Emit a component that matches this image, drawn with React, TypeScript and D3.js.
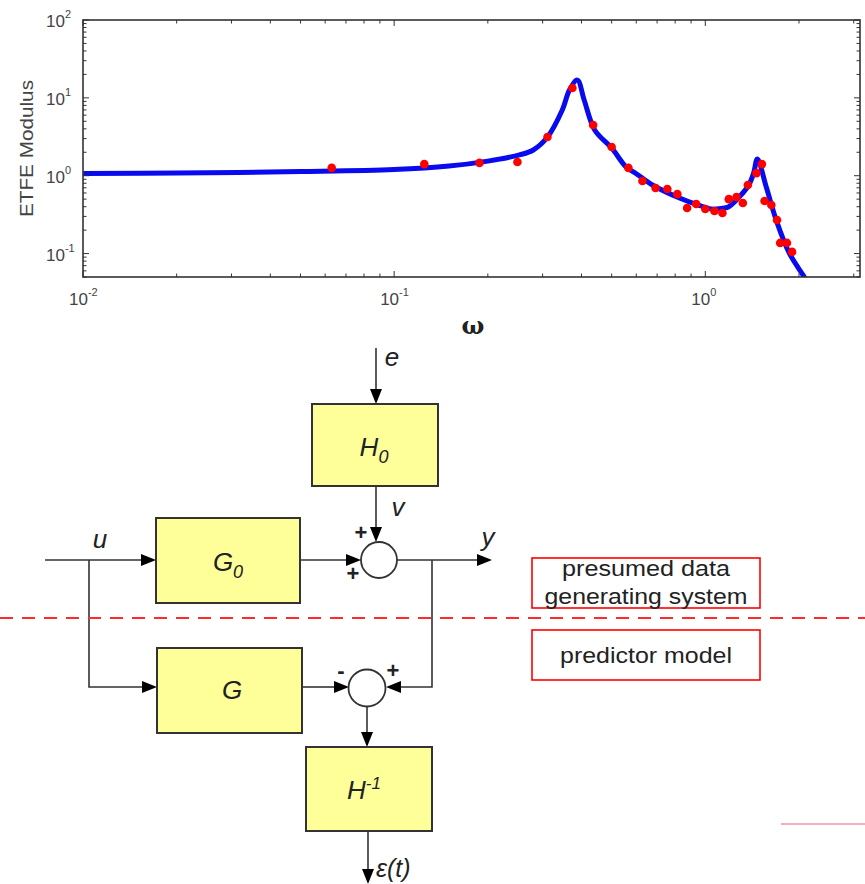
import * as d3 from "d3";

// fitted model modulus (blue line)
const omegaFit = [0.01, 0.02, 0.05, 0.1, 0.15, 0.2, 0.253, 0.28, 0.311, 0.347, 0.366, 0.388, 0.408, 0.441, 0.5, 0.557, 0.6, 0.676, 0.826, 0.95, 1.05, 1.12, 1.19, 1.32, 1.38, 1.43, 1.47, 1.57, 1.69, 1.86, 2.08, 2.2];
const modFit = [1.07, 1.08, 1.13, 1.2, 1.33, 1.54, 1.85, 2.14, 3.14, 6.98, 12.6, 16.9, 9.4, 3.87, 2.27, 1.29, 1.06, 0.76, 0.517, 0.42, 0.373, 0.38, 0.4, 0.6, 0.76, 1.08, 1.64, 0.716, 0.269, 0.102, 0.05, 0.034];

// ETFE estimate (red dots)
const omegaEtfe = [0.063, 0.125, 0.188, 0.249, 0.311, 0.374, 0.436, 0.5, 0.566, 0.628, 0.692, 0.755, 0.813, 0.874, 0.935, 1.0, 1.07, 1.135, 1.19, 1.26, 1.32, 1.37, 1.46, 1.52, 1.55, 1.63, 1.7, 1.74, 1.83, 1.9];
const modEtfe = [1.26, 1.41, 1.46, 1.5, 3.14, 13.4, 4.48, 2.34, 1.26, 0.855, 0.695, 0.675, 0.58, 0.385, 0.433, 0.373, 0.352, 0.332, 0.5, 0.532, 0.446, 0.76, 1.08, 1.41, 0.473, 0.42, 0.27, 0.137, 0.137, 0.105];

const xMajor = [0.01, 0.1, 1];
const xExp = ["-2", "-1", "0"];
const yMajor = [0.1, 1, 10, 100];
const yExp = ["-1", "0", "1", "2"];

const L = 83, R = 860, T = 20, B = 277;
const ink = "#333";
const sans = "Liberation Sans, Arial, sans-serif";

function Arrow({ x1, y1, x2, y2 }: { x1: number; y1: number; x2: number; y2: number }) {
  const a = Math.atan2(y2 - y1, x2 - x1);
  const len = 15, w = 6;
  const bx = x2 - len * Math.cos(a), by = y2 - len * Math.sin(a);
  const pts = [
    [x2, y2],
    [bx - w * Math.sin(a), by + w * Math.cos(a)],
    [bx + w * Math.sin(a), by - w * Math.cos(a)],
  ];
  return (
    <g>
      <line x1={x1} y1={y1} x2={bx} y2={by} stroke={ink} strokeWidth={1.6} />
      <polygon points={pts.map((p) => p.join(",")).join(" ")} fill="#000" />
    </g>
  );
}

function Block({ x, y, w, h }: { x: number; y: number; w: number; h: number }) {
  return <rect x={x} y={y} width={w} height={h} fill="#ffff99" stroke={ink} strokeWidth={2} />;
}

export default function App() {
  const x = d3.scaleLog().domain([0.01, Math.PI]).range([L, R]);
  const y = d3.scaleLog().domain([0.05, 100]).range([B, T]);

  const fitPts = omegaFit.map((w, i) => [w, modFit[i]] as [number, number]);
  const line = d3
    .line<[number, number]>()
    .x((d) => x(d[0]))
    .y((d) => y(d[1]))
    .curve(d3.curveCatmullRom.alpha(0.5));

  const xMinor = x.ticks().filter((t) => !xMajor.some((m) => Math.abs(m - t) < 1e-9));
  const yMinor = y.ticks().filter((t) => !yMajor.some((m) => Math.abs(m - t) < 1e-9));

  return (
    <div style={{ position: "absolute", left: 0, top: 0 }}>
      <svg width={865} height={884} style={{ display: "block", background: "#fff" }}>
        <defs>
          <clipPath id="plot">
            <rect x={L} y={T} width={R - L} height={B - T} />
          </clipPath>
        </defs>

        {/* chart */}
        <g clipPath="url(#plot)">
          <path d={line(fitPts) || ""} fill="none" stroke="#0a0aee" strokeWidth={5} strokeLinejoin="round" />
          {omegaEtfe.map((w, i) => (
            <circle key={i} cx={x(w)} cy={y(modEtfe[i])} r={4.3} fill="#ff0000" />
          ))}
        </g>
        <rect x={L} y={T} width={R - L} height={B - T} fill="none" stroke={ink} strokeWidth={1.6} />
        {xMinor.map((t, i) => (
          <g key={"xm" + i} stroke={ink} strokeWidth={1}>
            <line x1={x(t)} x2={x(t)} y1={B} y2={B - 3.5} />
            <line x1={x(t)} x2={x(t)} y1={T} y2={T + 3.5} />
          </g>
        ))}
        {xMajor.map((t, i) => (
          <g key={"xM" + i}>
            <line x1={x(t)} x2={x(t)} y1={B} y2={B - 6} stroke={ink} />
            <line x1={x(t)} x2={x(t)} y1={T} y2={T + 6} stroke={ink} />
            <text x={x(t) - 14} y={305} fontFamily={sans} fontSize={17} fill="#444">
              10
              <tspan dy={-9} fontSize={11}>{xExp[i]}</tspan>
            </text>
          </g>
        ))}
        {yMinor.map((t, i) => (
          <g key={"ym" + i} stroke={ink} strokeWidth={1}>
            <line x1={L} x2={L + 3.5} y1={y(t)} y2={y(t)} />
            <line x1={R} x2={R - 3.5} y1={y(t)} y2={y(t)} />
          </g>
        ))}
        {yMajor.map((t, i) => (
          <g key={"yM" + i}>
            <line x1={L} x2={L + 6} y1={y(t)} y2={y(t)} stroke={ink} />
            <line x1={R} x2={R - 6} y1={y(t)} y2={y(t)} stroke={ink} />
            <text x={46} y={y(t) + 7} fontFamily={sans} fontSize={17} fill="#444">
              10
              <tspan dy={-9} fontSize={11}>{yExp[i]}</tspan>
            </text>
          </g>
        ))}
        <text
          transform={`translate(33,${(T + B) / 2}) rotate(-90)`}
          textAnchor="middle"
          fontFamily={sans}
          fontSize={19}
          fill="#444"
          textLength={137}
          lengthAdjust="spacingAndGlyphs"
        >
          ETFE Modulus
        </text>
        <text x={473} y={334} textAnchor="middle" fontFamily="DejaVu Serif, serif" fontSize={24} fontWeight="bold" fill="#222">
          ω
        </text>

        {/* block diagram */}
        <g fontFamily={sans} fill="#222">
          <Arrow x1={376} y1={348} x2={376} y2={404} />
          <text x={392} y={366} textAnchor="middle" fontSize={26} fontStyle="italic">e</text>
          <Block x={312} y={404} w={126} h={82} />
          <text x={374} y={456} textAnchor="middle" fontSize={26} fontStyle="italic">
            H<tspan dy={7} fontSize={18}>0</tspan>
          </text>
          <Arrow x1={376} y1={486} x2={376} y2={542} />
          <text x={398} y={516} textAnchor="middle" fontSize={26} fontStyle="italic">v</text>

          <circle cx={379} cy={560} r={18} fill="#fff" stroke={ink} strokeWidth={1.8} />
          <text x={361} y={540} textAnchor="middle" fontSize={22} fontWeight="bold">+</text>
          <text x={353} y={581} textAnchor="middle" fontSize={22} fontWeight="bold">+</text>

          <Arrow x1={45} y1={560} x2={156} y2={560} />
          <text x={100} y={548} textAnchor="middle" fontSize={26} fontStyle="italic">u</text>
          <Block x={156} y={518} w={144} h={85} />
          <text x={228} y={571} textAnchor="middle" fontSize={26} fontStyle="italic">
            G<tspan dy={7} fontSize={18}>0</tspan>
          </text>
          <Arrow x1={300} y1={560} x2={361} y2={560} />
          <Arrow x1={397} y1={560} x2={492} y2={560} />
          <text x={488} y={546} textAnchor="middle" fontSize={26} fontStyle="italic">y</text>

          <path d="M432,560 V687 H400" fill="none" stroke={ink} strokeWidth={1.6} />
          <Arrow x1={400} y1={687} x2={386} y2={687} />
          <path d="M89,560 V687 H140" fill="none" stroke={ink} strokeWidth={1.6} />
          <Arrow x1={140} y1={687} x2={157} y2={687} />

          <Block x={157} y={648} w={145} h={85} />
          <text x={232} y={699} textAnchor="middle" fontSize={26} fontStyle="italic">G</text>
          <Arrow x1={302} y1={687} x2={349} y2={687} />
          <circle cx={367} cy={688} r={18.5} fill="#fff" stroke={ink} strokeWidth={1.8} />
          <text x={341} y={678} textAnchor="middle" fontSize={22} fontWeight="bold">-</text>
          <text x={393} y={678} textAnchor="middle" fontSize={22} fontWeight="bold">+</text>
          <Arrow x1={367} y1={707} x2={367} y2={747} />

          <Block x={306} y={747} w={126} h={84} />
          <text x={364} y={799} textAnchor="middle" fontSize={26} fontStyle="italic">
            H<tspan dy={-10} fontSize={17}>-1</tspan>
          </text>
          <Arrow x1={368} y1={831} x2={368} y2={884} />
          <text x={376} y={877} fontSize={25} fontStyle="italic">ε(t)</text>

          <line x1={0} x2={865} y1={618} y2={618} stroke="#ff2a2a" strokeWidth={2} strokeDasharray="13 9" />
          <rect x={532} y={558} width={228} height={50} fill="none" stroke="#ff0000" strokeWidth={1.6} />
          <text x={646} y={576} textAnchor="middle" fontSize={22} textLength={168} lengthAdjust="spacingAndGlyphs">
            presumed data
          </text>
          <text x={646} y={604} textAnchor="middle" fontSize={22} textLength={203} lengthAdjust="spacingAndGlyphs">
            generating system
          </text>
          <rect x={532} y={630} width={228} height={50} fill="none" stroke="#ff0000" strokeWidth={1.6} />
          <text x={646} y={663} textAnchor="middle" fontSize={22} textLength={172} lengthAdjust="spacingAndGlyphs">
            predictor model
          </text>
          <line x1={781} x2={865} y1={824} y2={824} stroke="#f4aec0" strokeWidth={2} />
        </g>
      </svg>
    </div>
  );
}
